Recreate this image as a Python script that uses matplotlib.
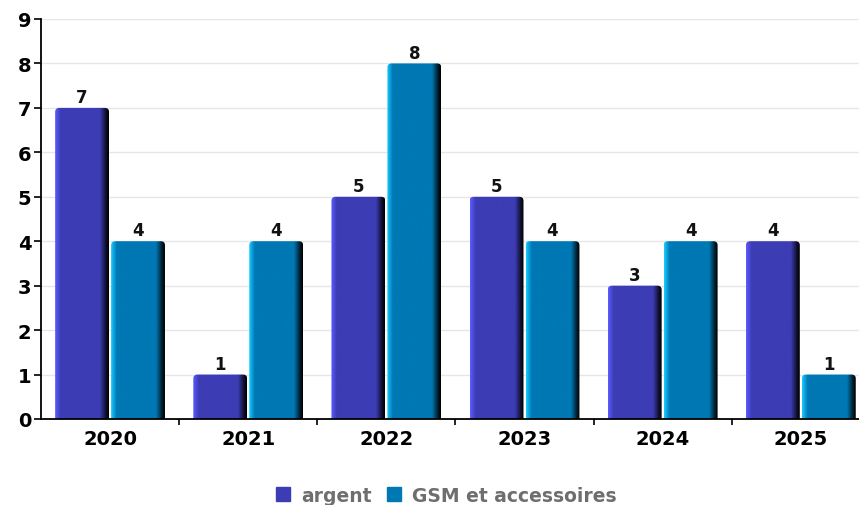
import matplotlib
matplotlib.use("Agg")
import matplotlib.pyplot as plt
import numpy as np
from matplotlib.colors import LinearSegmentedColormap, to_rgb
from matplotlib.patches import FancyBboxPatch
from matplotlib.lines import Line2D

years = ["2020", "2021", "2022", "2023", "2024", "2025"]
argent = [7, 1, 5, 5, 3, 4]
gsm = [4, 4, 8, 4, 4, 1]
series_names = ["argent", "GSM et accessoires"]

# base, left highlight, right shadow for each series
styles = [("#3c3cb4", "#5a5aff", "#101030"),
          ("#0078b4", "#18c8ff", "#002030")]

fig = plt.figure(figsize=(8.59, 5.06), dpi=100)
# plot area runs slightly past the right edge of the figure
ax = fig.add_axes([0.0477, 0.17, 0.965, 0.7905])

x = np.arange(len(years))
w = 0.39
ax.set_xlim(-0.5, len(years) - 0.5)
ax.set_ylim(0, 9)


def shade(base, light, dark):
    stops = [(0.0, light), (0.1, base), (0.84, base), (0.95, dark), (1.0, "#000000")]
    return LinearSegmentedColormap.from_list("s", [(p, to_rgb(c)) for p, c in stops])


grad = np.linspace(0, 1, 64).reshape(1, -1)
for i, (vals, (base, light, dark)) in enumerate(zip([argent, gsm], styles)):
    offs = (i - 0.5) * (w + 0.015)
    bars = ax.bar(x + offs, vals, w, color=base)
    cmap = shade(base, light, dark)
    for rect, v in zip(bars, vals):
        rect.set_visible(False)
        x0, bw = rect.get_x(), rect.get_width()
        # rounded top; bottom pushed below 0 so only the top shows rounded
        box = FancyBboxPatch((x0, -0.2), bw, v + 0.2,
                             boxstyle="round,pad=0,rounding_size=0.03",
                             mutation_aspect=3.0, fc="none", ec="none")
        ax.add_patch(box)
        im = ax.imshow(grad, cmap=cmap, aspect="auto",
                       extent=(x0, x0 + bw, -0.2, v), zorder=2)
        im.set_clip_path(box)
        ax.text(x0 + bw / 2, v + 0.04, str(v), ha="center", va="bottom",
                fontsize=12, fontweight="bold", color="#111111", zorder=3)

ax.set_xlim(-0.5, len(years) - 0.5)
ax.set_ylim(0, 9)
ax.set_aspect("auto")

ax.set_yticks(range(0, 10))
ax.tick_params(axis="y", labelsize=14, length=5, width=1.2, pad=2)
for t in ax.get_yticklabels():
    t.set_fontweight("bold")
ax.yaxis.grid(True, color="#e6e6e6", lw=1)
ax.set_axisbelow(True)

ax.set_xticks(x)
ax.set_xticklabels(years, fontsize=14, fontweight="bold")
ax.set_xticks(np.arange(0.5, len(years) - 0.5), minor=True)
ax.tick_params(axis="x", which="major", length=0, pad=7)
ax.tick_params(axis="x", which="minor", length=4, width=1.2)

for s in ["top", "right"]:
    ax.spines[s].set_visible(False)
ax.spines["left"].set_linewidth(1.3)
ax.spines["bottom"].set_linewidth(1.3)

handles = [Line2D([], [], marker="s", ls="", markersize=9.5, color=c[0]) for c in styles]
leg = fig.legend(handles, series_names, loc="center", bbox_to_anchor=(0.518, 0.019),
                 ncol=2, frameon=False, handletextpad=0.45, columnspacing=0.7,
                 handlelength=1.0, prop={"size": 13.5, "weight": "bold"})
for t in leg.get_texts():
    t.set_color("#6e6e6e")

fig.savefig("out.png", dpi=100)
